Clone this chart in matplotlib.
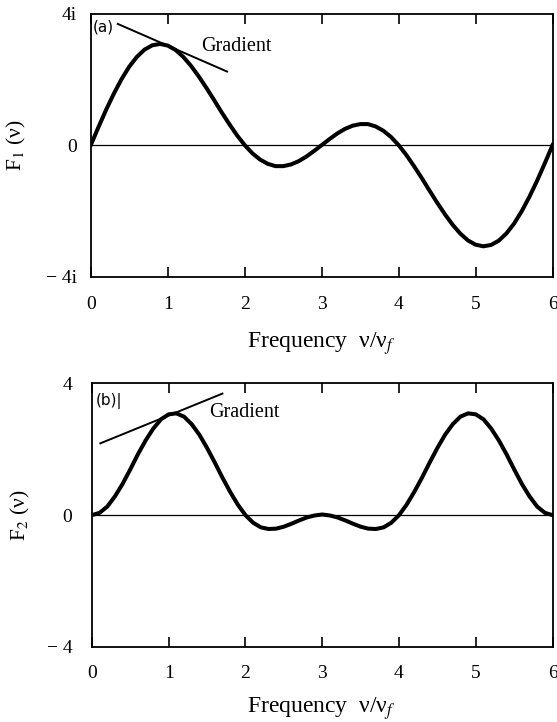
import matplotlib
matplotlib.use("Agg")
import matplotlib.pyplot as plt

plt.rcParams['font.family'] = ['Liberation Serif', 'DejaVu Serif']
plt.rcParams['mathtext.fontset'] = 'stix'

# frequency axis (nu / nu_f)
freq = [0.0, 0.1, 0.2, 0.3, 0.4, 0.5, 0.6, 0.7, 0.8, 0.9,
        1.0, 1.1, 1.2, 1.3, 1.4, 1.5, 1.6, 1.7, 1.8, 1.9,
        2.0, 2.1, 2.2, 2.3, 2.4, 2.5, 2.6, 2.7, 2.8, 2.9,
        3.0, 3.1, 3.2, 3.3, 3.4, 3.5, 3.6, 3.7, 3.8, 3.9,
        4.0, 4.1, 4.2, 4.3, 4.4, 4.5, 4.6, 4.7, 4.8, 4.9,
        5.0, 5.1, 5.2, 5.3, 5.4, 5.5, 5.6, 5.7, 5.8, 5.9, 6.0]

# panel (a): imaginary spectrum F1
f1 = [0.00, 0.55, 1.08, 1.57, 2.01, 2.39, 2.69, 2.91, 3.04, 3.08,
      3.03, 2.90, 2.69, 2.42, 2.10, 1.75, 1.38, 1.00, 0.64, 0.30,
      0.00, -0.25, -0.44, -0.57, -0.64, -0.64, -0.59, -0.49, -0.35, -0.18,
      0.00, 0.18, 0.35, 0.49, 0.59, 0.64, 0.64, 0.57, 0.44, 0.25,
      0.00, -0.30, -0.64, -1.00, -1.38, -1.75, -2.10, -2.42, -2.69, -2.90,
      -3.03, -3.08, -3.04, -2.91, -2.69, -2.39, -2.01, -1.57, -1.08, -0.55, 0.00]

# panel (b): real spectrum F2
f2 = [0.00, 0.07, 0.26, 0.57, 0.95, 1.39, 1.85, 2.27, 2.63, 2.91,
      3.06, 3.09, 2.99, 2.76, 2.44, 2.04, 1.60, 1.14, 0.71, 0.32,
      0.00, -0.23, -0.37, -0.42, -0.41, -0.35, -0.26, -0.16, -0.07, -0.01,
      0.02, -0.01, -0.07, -0.16, -0.26, -0.35, -0.41, -0.42, -0.37, -0.23,
      0.00, 0.32, 0.71, 1.14, 1.60, 2.04, 2.44, 2.76, 2.99, 3.09,
      3.06, 2.91, 2.63, 2.27, 1.85, 1.39, 0.95, 0.57, 0.26, 0.07, 0.00]

# gradient lines drawn near the first peak
grad_a_x = [0.35, 1.77]
grad_a_y = [3.69, 2.24]
grad_b_x = [0.11, 1.70]
grad_b_y = [2.18, 3.69]

xticks = [0, 1, 2, 3, 4, 5, 6]
yticks = [-4, 0, 4]
ylabels_a = ['\u2212 4i', '0', '4i']
ylabels_b = ['\u2212 4', '0', '4']

fig = plt.figure(figsize=(5.57, 7.22), dpi=100)
ax1 = fig.add_axes([0.163, 0.617, 0.829, 0.364])
ax2 = fig.add_axes([0.165, 0.104, 0.827, 0.365])


def style(ax, ylabels, ylab, xpad, ypad):
    ax.set_xlim(0, 6)
    ax.set_ylim(-4, 4)
    ax.axhline(0, color='black', lw=0.9, zorder=1)
    ax.set_xticks(xticks)
    ax.set_yticks(yticks)
    ax.set_yticklabels(ylabels)
    ax.tick_params(axis='x', direction='in', length=7, width=1.2,
                   top=True, labelsize=14, pad=xpad)
    ax.tick_params(axis='y', length=0, labelsize=14, pad=ypad)
    for s in ax.spines.values():
        s.set_linewidth(1.3)
    ax.set_ylabel(ylab, fontsize=15.5)
    ax.set_xlabel('Frequency  \u03bd/\u03bd$_f$', fontsize=17)


# (a)
ax1.plot(freq, f1, color='black', lw=2.9, zorder=3)
ax1.plot(grad_a_x, grad_a_y, color='black', lw=1.4, zorder=3)
ax1.text(1.44, 3.0, 'Gradient', fontsize=14.5, va='center', ha='left')
ax1.text(0.03, 3.6, '(a)', fontsize=11, family='DejaVu Sans', va='center')
style(ax1, ylabels_a, 'F$_1$ (\u03bd)', 14, 10)
ax1.yaxis.set_label_coords(-0.135, 0.5)
ax1.xaxis.set_label_coords(0.499, -0.205)

# (b)
ax2.plot(freq, f2, color='black', lw=2.9, zorder=3)
ax2.plot(grad_b_x, grad_b_y, color='black', lw=1.4, zorder=3)
ax2.text(1.53, 3.11, 'Gradient', fontsize=14.5, va='center', ha='left')
ax2.text(0.05, 3.45, '(b)|', fontsize=11, family='DejaVu Sans', va='center')
style(ax2, ylabels_b, 'F$_2$ (\u03bd)', 13, 14)
ax2.yaxis.set_label_coords(-0.13, 0.5)
ax2.xaxis.set_label_coords(0.499, -0.182)

fig.savefig('out.png', dpi=100)
